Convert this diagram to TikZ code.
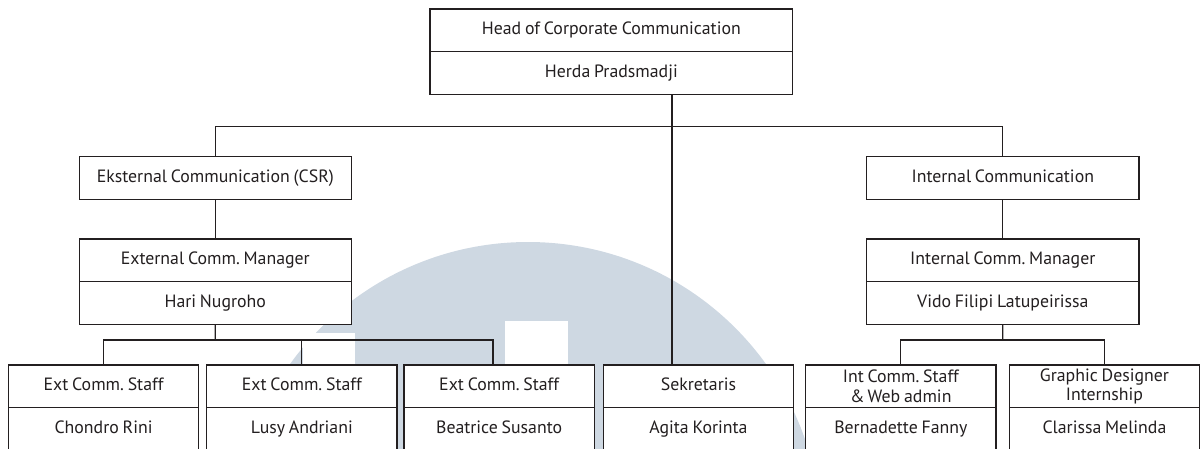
\documentclass[tikz,border=0pt]{standalone}
\usepackage{fontspec}
\setmainfont[WordSpace=0.8]{PT Sans}
\definecolor{ink}{HTML}{231F20}
\definecolor{wm}{HTML}{CED8E2}
\frenchspacing
\begin{document}
\begin{tikzpicture}[x=1pt,y=-1pt,
  cell/.style={draw=ink, fill=white, line width=1.2pt, inner sep=0pt, outer sep=0pt,
    minimum height=42.7pt, text height=12.7pt, text depth=4pt, text=ink,
    font=\fontsize{17.8}{20}\selectfont, anchor=north west, align=center},
  wide/.style={cell, minimum width=362.7pt},
  mid/.style={cell, minimum width=272.2pt},
  small/.style={cell, minimum width=190.3pt},
  twoline/.style={text height={}, text depth={}},
  link/.style={draw=ink, line width=1.2pt}]
\useasboundingbox (0,0) rectangle (1203,448);
\clip (0,0) rectangle (1203,448);
% watermark
\fill[wm] (528,535) circle[radius=293pt];
\fill[white] (303,333) rectangle (355,460);
\fill[white] (505,321) rectangle (568,460);
% coordinates for off-centre connectors
\coordinate (bus) at (672,126.7);
\coordinate (extbus) at (215.3,340);
\coordinate (b3) at (493,340);
\coordinate (intbus) at (1002.8,340);
% nodes
\node[wide] (head) at (430,9) {Head of Corporate Communication};
\node[wide] (headname) at (430,51.7) {Herda Pradsmadji};
\node[mid] (csr) at (79.2,156.7) {Eksternal Communication (CSR)};
\node[mid] (int) at (866.7,156.7) {Internal Communication};
\node[mid] (extmgr) at (79.2,239) {External Comm. Manager};
\node[mid] (extname) at (79.2,281.7) {Hari Nugroho};
\node[mid] (intmgr) at (866.7,239) {Internal Comm. Manager};
\node[mid] (intname) at (866.7,281.7) {Vido Filipi Latupeirissa};
\node[small] (s1) at (8.4,365) {Ext Comm. Staff};
\node[small] (s1n) at (8.4,407.7) {Chondro Rini};
\node[small] (s2) at (206.7,365) {Ext Comm. Staff};
\node[small] (s2n) at (206.7,407.7) {Lusy Andriani};
\node[small] (s3) at (404,365) {Ext Comm. Staff};
\node[small] (s3n) at (404,407.7) {Beatrice Susanto};
\node[small] (sek) at (603.3,365) {Sekretaris};
\node[small] (sekn) at (603.3,407.7) {Agita Korinta};
\node[small,twoline] (s5) at (805.7,365) {Int Comm. Staff\\[-0.5pt]\&\,Web admin};
\node[small] (s5n) at (805.7,407.7) {Bernadette Fanny};
\node[small,twoline] (s6) at (1009.3,365) {Graphic Designer\\[-0.5pt]Internship};
\node[small] (s6n) at (1009.3,407.7) {Clarissa Melinda};
% connectors
\draw[link] (headname.south -| bus) -- (sek.north -| bus);
\draw[link] (csr.north) |- (bus) -| (int.north);
\draw[link] (csr.south) -- (extmgr.north);
\draw[link] (int.south) -- (intmgr.north);
\draw[link] (extname.south) -- (extbus);
\draw[link] (s1.north) |- (b3) -- (b3 |- s3.north);
\draw[link] (s2.north) -- (s2.north |- extbus);
\draw[link] (intname.south) -- (intbus);
\draw[link] (s5.north) |- (intbus) -| (s6.north);
\end{tikzpicture}
\end{document}
